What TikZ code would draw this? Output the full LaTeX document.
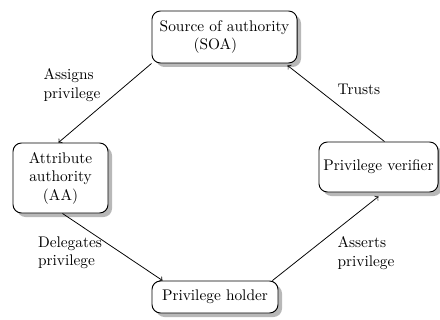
\documentclass[tikz,border=0pt]{standalone}
\usetikzlibrary{shadows,calc}
\begin{document}
\begin{tikzpicture}[x=0.65pt, y=-0.65pt,
  entity/.style={draw, line width=0.6pt, rounded corners=5.5pt, fill=white, inner sep=2pt,
    drop shadow={shadow xshift=2.6pt, shadow yshift=-2.6pt, fill=black!28, opacity=1}},
  flow/.style={->, line width=0.5pt},
  lbl/.style={align=left, inner sep=0pt}]
  \useasboundingbox (0,0) rectangle (440,320);

  % actors
  \node[entity, minimum width=94.3pt, minimum height=33.8pt, align=left] (soa) at (224.5,37)
    {Source of authority\\\hspace*{22pt}(SOA)};
  \node[entity, minimum width=61.75pt, minimum height=45.5pt, align=center] (aa) at (60.5,178)
    {Attribute\\authority\\(AA)};
  \node[entity, minimum width=77.4pt, minimum height=32.5pt] (pv) at (378.5,167)
    {Privilege verifier};
  \node[entity, minimum width=81.9pt, minimum height=20.8pt] (ph) at (215,297)
    {Privilege holder};

  % privilege flow
  \draw[flow] (soa.south west) -- ($(aa.north)+(-2,0)$);
  \draw[flow] ($(aa.south)+(2,0)$) -- ($(ph.north west)+(11,0)$);
  \draw[flow] ($(ph.north east)+(-6,0)$) -- ($(pv.south)+(0,4)$);
  \draw[flow] ($(pv.north)+(6,0)$) -- ($(soa.south east)+(-10,2)$);

  % flow labels
  \node[lbl] (l1) at (72,85) {Assigns\\privilege};
  \node[lbl] (l2) at (359,89) {Trusts};
  \node[lbl] (l3) at (70,253) {Delegates\\privilege};
  \node[lbl] (l4) at (366,253) {Asserts\\privilege};
\end{tikzpicture}
\end{document}
